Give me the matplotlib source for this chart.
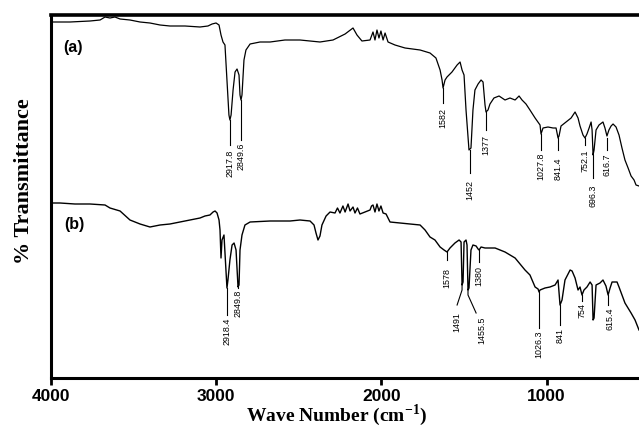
import matplotlib
matplotlib.use("Agg")
import matplotlib.pyplot as plt
from matplotlib import font_manager

# ---------------- data (wavenumber in cm-1, transmittance in arbitrary units) ----------------
wn_a = [4000, 3885, 3764, 3703, 3673, 3643, 3613, 3582, 3522, 3461,
        3401, 3340, 3280, 3189, 3098, 3050, 3025, 3001, 2983, 2971,
        2959, 2947, 2935, 2923, 2917, 2910, 2898, 2886, 2874, 2862,
        2856, 2850, 2844, 2832, 2820, 2795, 2735, 2674, 2584, 2493,
        2372, 2293, 2220, 2172, 2148, 2118, 2069, 2051, 2039, 2027,
        2015, 2003, 1990, 1978, 1960, 1918, 1857, 1766, 1706, 1670,
        1645, 1633, 1627, 1615, 1603, 1573, 1542, 1524, 1512, 1500,
        1488, 1470, 1458, 1446, 1434, 1415, 1397, 1385, 1373, 1367,
        1355, 1343, 1319, 1288, 1252, 1222, 1191, 1167, 1149, 1125,
        1101, 1070, 1040, 1034, 1022, 992, 961, 943, 931, 925,
        913, 883, 852, 828, 810, 798, 780, 768, 756, 743,
        731, 725, 719, 713, 701, 683, 659, 647, 635, 623,
        610, 598, 580, 562, 544, 526, 507, 489, 471, 459,
        441]
t_a = [356, 356, 357, 358, 361, 360, 361, 359, 358, 356,
       355, 353, 352, 352, 351, 352, 354, 355, 353, 343,
       336, 333, 298, 263, 258, 263, 288, 306, 309, 303,
       283, 278, 283, 318, 328, 334, 336, 336, 338, 338,
       336, 338, 344, 350, 343, 337, 338, 346, 338, 348,
       340, 347, 338, 345, 336, 333, 330, 328, 325, 320,
       308, 298, 290, 298, 301, 306, 313, 316, 308, 303,
       268, 228, 230, 268, 288, 294, 298, 296, 273, 266,
       268, 274, 280, 282, 278, 280, 278, 282, 278, 274,
       268, 260, 253, 244, 250, 251, 250, 250, 240, 242,
       252, 256, 260, 266, 260, 252, 243, 240, 244, 250,
       256, 248, 223, 228, 248, 253, 256, 250, 242, 248,
       252, 254, 251, 243, 230, 218, 210, 202, 198, 193,
       192]

wn_b = [4000, 3946, 3855, 3764, 3673, 3643, 3582, 3522, 3461, 3401,
        3340, 3280, 3219, 3159, 3098, 3068, 3038, 3019, 3007, 2995,
        2983, 2977, 2971, 2965, 2953, 2941, 2935, 2929, 2917, 2904,
        2892, 2880, 2868, 2862, 2856, 2844, 2826, 2795, 2674, 2553,
        2493, 2432, 2408, 2396, 2384, 2372, 2360, 2335, 2311, 2281,
        2266, 2251, 2233, 2220, 2202, 2190, 2172, 2160, 2145, 2130,
        2099, 2069, 2060, 2051, 2039, 2027, 2015, 2003, 1990, 1972,
        1948, 1888, 1827,
        1766, 1736, 1706, 1676, 1645, 1621, 1603, 1585, 1555, 1530,
        1518, 1512, 1506, 1500, 1488, 1482, 1476, 1470, 1458, 1446,
        1427, 1415, 1409, 1397, 1373, 1312, 1252, 1191, 1131, 1101,
        1070, 1052, 1046, 1040, 1010, 980, 949, 931, 919, 907,
        889, 858, 846, 828, 810, 798, 786, 774, 756, 737,
        725, 719, 713, 701, 677, 659, 641, 628, 616, 604,
        574, 562, 526, 489, 465, 441]
t_b = [175, 175, 174, 174, 173, 170, 167, 158, 154, 151,
       153, 154, 156, 158, 160, 162, 163, 166, 167, 165,
       158, 148, 120, 138, 143, 108, 90, 98, 118, 133,
       135, 128, 91, 93, 128, 143, 153, 156, 157, 157,
       158, 157, 153, 145, 138, 142, 153, 162, 166, 165,
       170, 165, 172, 166, 174, 167, 171, 165, 170, 164,
       166, 168, 172, 173, 166, 174, 167, 172, 165, 164,
       156, 155, 154,
       153, 148, 141, 138, 131, 128, 126, 130, 135, 138,
       136, 93, 96, 136, 138, 133, 88, 90, 128, 133,
       132, 129, 128, 131, 130, 130, 126, 120, 108, 103,
       91, 89, 86, 88, 90, 91, 93, 98, 73, 78,
       98, 108, 107, 100, 88, 91, 83, 88, 91, 96,
       93, 58, 60, 93, 95, 98, 92, 83, 90, 96,
       96, 91, 75, 65, 58, 48]

# peak annotations (position, label)
peaks_a_pos = [2917, 2850, 1627, 1464, 1367, 1034, 931, 768, 719, 635]
peaks_a_lbl = ["2917.8", "2849.6", "1582", "1452", "1377",
               "1027.8", "841.4", "752.1", "696.3", "616.7"]
peaks_b_pos = [2935, 2868, 1603, 1409, 1046, 919, 786, 628]
peaks_b_lbl = ["2918.4", "2849.8", "1578", "1380", "1026.3", "841", "754", "615.4"]
# two labels with bent leader lines
bent_b_pos = [1512, 1476]
bent_b_lbl = ["1491", "1455.5"]

xticks = [4000, 3000, 2000, 1000]

# ---------------- layout of annotations ----------------
a_line = [(258, 233), (278, 238), (290, 275), (228, 205), (266, 248),
          (244, 228), (240, 228), (240, 233), (223, 200), (240, 228)]
a_text_top = [228, 235, 270, 198, 243, 225, 221, 228, 193, 225]
b_line = [(90, 63), (91, 90), (126, 118), (128, 116), (86, 50),
          (73, 53), (83, 77), (83, 73)]
b_text_top = [60, 88, 110, 112, 48, 50, 75, 71]
b_text_x = [2935, 2868, 1603, 1409, 1046, 919, 786, 616]
bent_path = [([1512, 1512, 1542], [93, 88, 73]), ([1476, 1476, 1427], [88, 83, 65])]
bent_text = [(1542, 66), (1391, 62)]


def has_font(name):
    try:
        font_manager.findfont(font_manager.FontProperties(family=name), fallback_to_default=False)
        return True
    except Exception:
        return False


narrow = has_font("Liberation Sans Narrow")
tick_family = "Liberation Sans Narrow" if narrow else "Liberation Sans"
tick_size = 14 if narrow else 12.5
small_family = "Liberation Sans Narrow" if narrow else "Liberation Sans"
small_size = 7.6 if narrow else 6.4

plt.rcParams["mathtext.fontset"] = "custom"
plt.rcParams["mathtext.rm"] = "Liberation Serif"
plt.rcParams["mathtext.bf"] = "Liberation Serif:bold"

W, H = 639, 429
fig = plt.figure(figsize=(W / 100, H / 100), dpi=100)
ax = fig.add_axes([51 / W, 1 - 378 / H, 1 - 51 / W, (378 - 15) / H])

ax.plot(wn_a, t_a, color="black", lw=0.9)
ax.plot(wn_b, t_b, color="black", lw=1.0)

for x, (y0, y1), ty, lbl in zip(peaks_a_pos, a_line, a_text_top, peaks_a_lbl):
    ax.plot([x, x], [y0, y1], color="black", lw=0.8)
    ax.text(x, ty, lbl, rotation=90, ha="center", va="top",
            fontsize=small_size, family=small_family)

for x, (y0, y1), tx, ty, lbl in zip(peaks_b_pos, b_line, b_text_x, b_text_top, peaks_b_lbl):
    ax.plot([x, x], [y0, y1], color="black", lw=0.8)
    ax.text(tx, ty, lbl, rotation=90, ha="center", va="top",
            fontsize=small_size, family=small_family)

for (px, py), (tx, ty), lbl in zip(bent_path, bent_text, bent_b_lbl):
    ax.plot(px, py, color="black", lw=0.8)
    ax.text(tx, ty, lbl, rotation=90, ha="center", va="top",
            fontsize=small_size, family=small_family)

ax.text(0.038, 0.91, "(a)", transform=ax.transAxes, fontsize=11.5,
        fontweight="bold", family="Liberation Sans", ha="center", va="center")
ax.text(0.040, 0.423, "(b)", transform=ax.transAxes, fontsize=11.5,
        fontweight="bold", family="Liberation Sans", ha="center", va="center")

ax.set_xlim(4000, 441)
ax.set_ylim(0, 363)
ax.set_xticks(xticks)
ax.set_xticklabels([str(t) for t in xticks], fontsize=tick_size,
                   fontweight="bold", family=tick_family)
ax.set_yticks([])
ax.tick_params(axis="x", direction="out", length=5, width=2, pad=3)
ax.spines["right"].set_visible(False)
ax.spines["left"].set_linewidth(2.2)
ax.spines["bottom"].set_linewidth(2.2)
ax.spines["top"].set_linewidth(2.6)

fig.text(337 / W, 1 - 428.5 / H, "Wave Number (cm$^{\\mathbf{-1}}$)", ha="center", va="bottom",
         fontsize=14, fontweight="bold", family="Liberation Serif")
fig.text(24 / W, 1 - 181 / H, "% Transmittance", rotation=90, ha="center", va="center",
         fontsize=16, fontweight="bold", family="Liberation Serif")

fig.savefig("out.png", dpi=100)
